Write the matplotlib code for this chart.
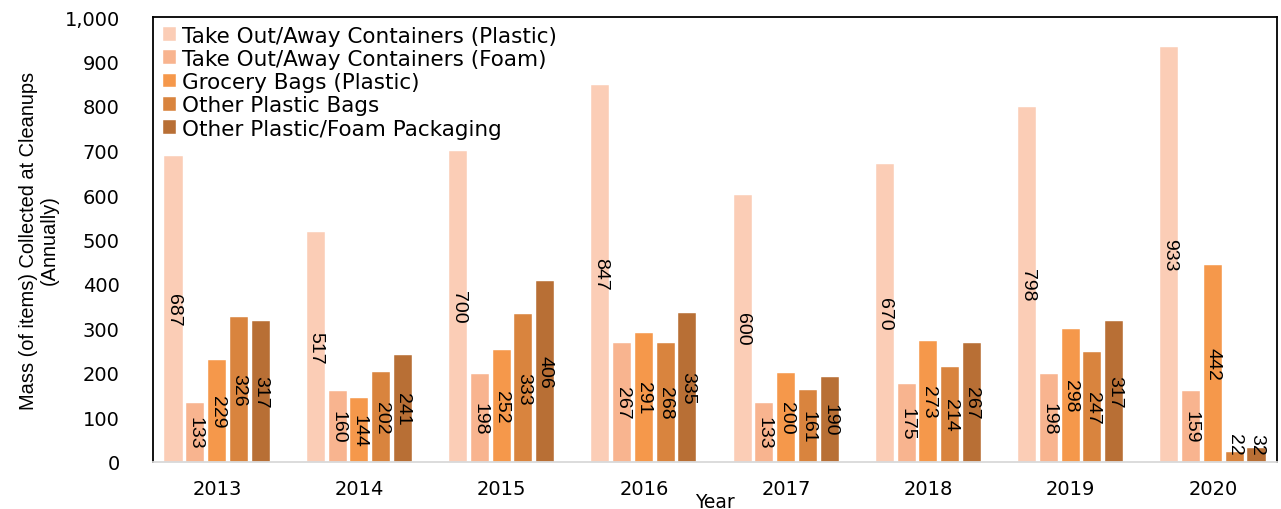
import matplotlib.pyplot as plt
import numpy as np
from matplotlib.ticker import FuncFormatter

plt.rcParams['font.family'] = ['DejaVu Sans']

years = ['2013', '2014', '2015', '2016', '2017', '2018', '2019', '2020']
series_names = ['Take Out/Away Containers (Plastic)',
                'Take Out/Away Containers (Foam)',
                'Grocery Bags (Plastic)',
                'Other Plastic Bags',
                'Other Plastic/Foam Packaging']
containers_plastic = [687, 517, 700, 847, 600, 670, 798, 933]
containers_foam = [133, 160, 198, 267, 133, 175, 198, 159]
grocery_bags = [229, 144, 252, 291, 200, 273, 298, 442]
other_bags = [326, 202, 333, 268, 161, 214, 247, 22]
packaging = [317, 241, 406, 335, 190, 267, 317, 32]
colors = ['#FBCDB6', '#F8B48F', '#F5984B', '#D9843E', '#B86F35']

all_series = [containers_plastic, containers_foam, grocery_bags, other_bags, packaging]

fig = plt.figure(figsize=(12.81, 5.10), dpi=100)
ax = fig.add_axes([153 / 1281, 1 - 463 / 510, 1124 / 1281, 445 / 510])

x = np.arange(len(years))
width = 0.127
pitch = 0.153
for i, (vals, name, c) in enumerate(zip(all_series, series_names, colors)):
    pos = x + (i - 2) * pitch
    ax.bar(pos, vals, width, color=c, label=name, edgecolor='white', linewidth=0.3)
    for p, v in zip(pos, vals):
        # rotated labels in the middle of each bar
        ax.text(p, max(v / 2, 40), str(v), rotation=-90, ha='center', va='center',
                fontsize=14, color='black', family='Liberation Sans')

ax.set_xlim(-0.45, 7.45)
ax.set_ylim(0, 1000)
ax.set_yticks(range(0, 1001, 100))
ax.yaxis.set_major_formatter(FuncFormatter(lambda v, p: '{:,.0f}'.format(v)))
ax.set_xticks(x)
ax.set_xticklabels(years)
ax.tick_params(axis='both', length=0, labelsize=14)
ax.tick_params(axis='y', pad=24)
ax.tick_params(axis='x', pad=12)

for s in ['left', 'top', 'right']:
    ax.spines[s].set_color('black')
    ax.spines[s].set_linewidth(1.3)
ax.spines['bottom'].set_color('#D9D9D9')
ax.spines['bottom'].set_linewidth(1.3)

ax.set_xlabel('Year', fontsize=13.5, labelpad=-4)
ax.set_ylabel('Mass (of items) Collected at Cleanups\n(Annually)', fontsize=14.4,
              labelpad=4, family='Liberation Sans', linespacing=1.1)

ax.legend(loc='upper left', bbox_to_anchor=(0.003, 0.995), frameon=False, fontsize=15.5,
          handlelength=0.6, handleheight=0.6, handletextpad=0.3, labelspacing=0.15,
          borderaxespad=0.2, borderpad=0.1)

fig.savefig('out.png', dpi=100)
